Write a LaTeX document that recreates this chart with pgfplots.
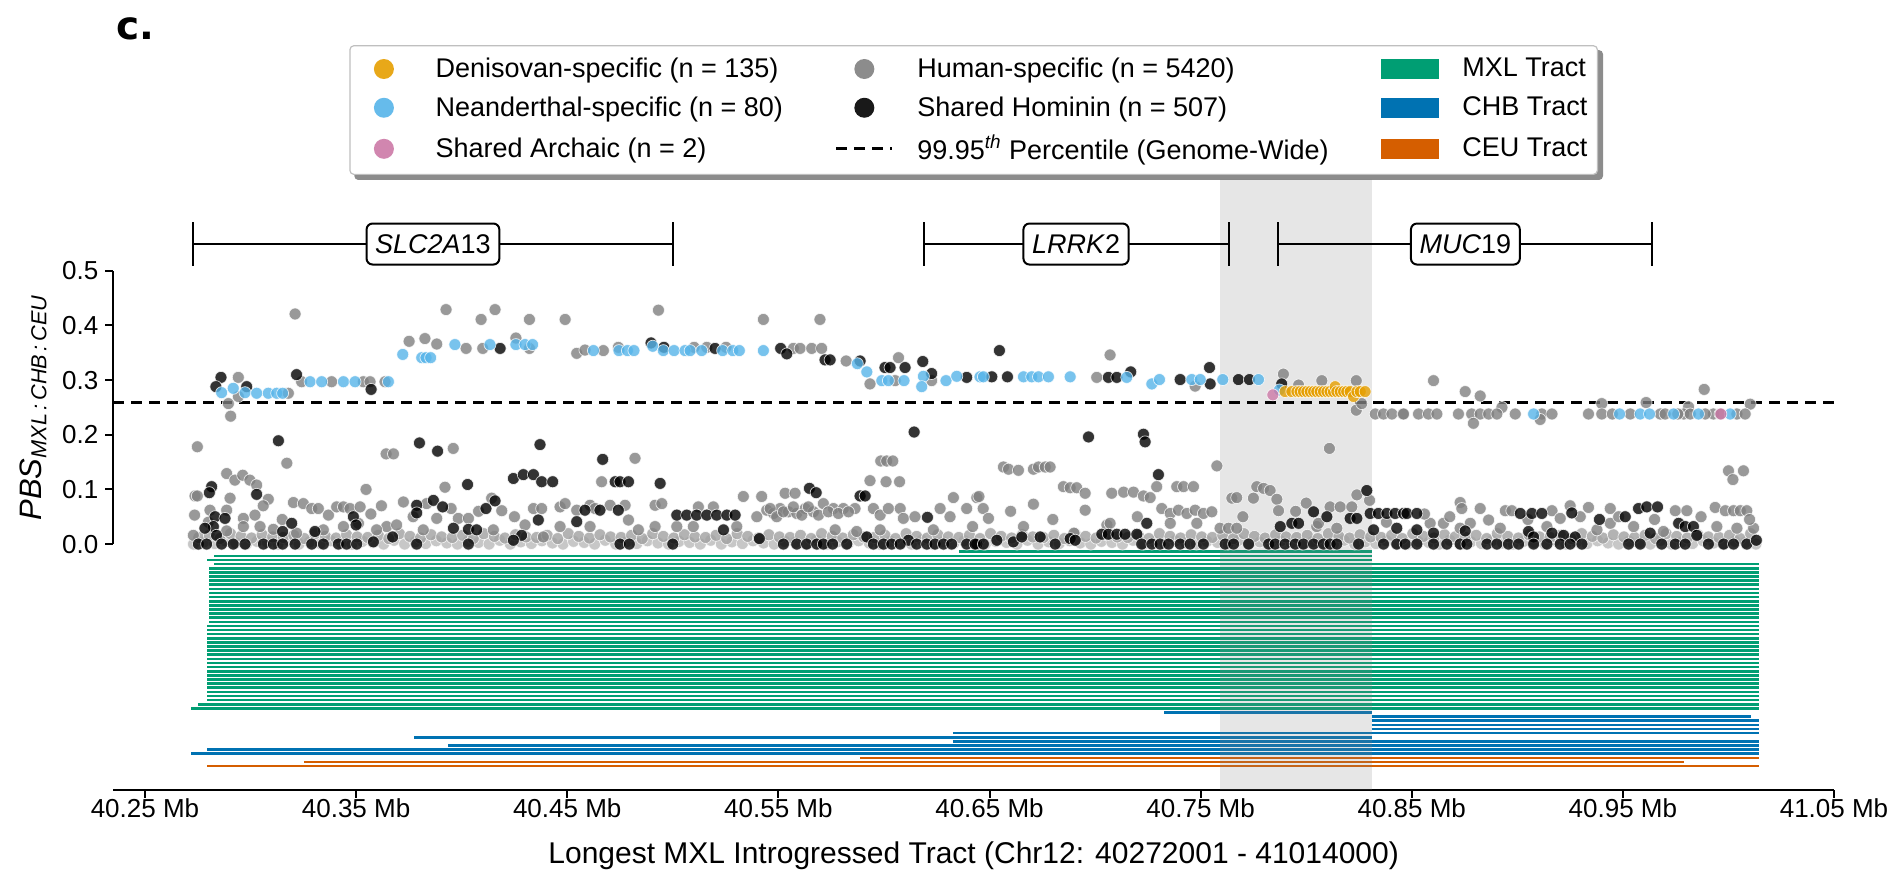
\documentclass[border=0pt]{standalone}
\usepackage{fontspec}
\setmainfont{Liberation Sans}
\newfontfamily\dejavu{DejaVu Sans}
\usepackage{pgfplots}
\pgfplotsset{compat=1.18}
\usetikzlibrary{backgrounds}
\definecolor{deni}{HTML}{E69F00}
\definecolor{nean}{HTML}{56B4E9}
\definecolor{arch}{HTML}{CC79A7}
\definecolor{humn}{HTML}{808080}
\definecolor{mxl}{HTML}{009E73}
\definecolor{chb}{HTML}{0072B2}
\definecolor{ceu}{HTML}{D55E00}
\pgfplotsset{
  scat/.style={only marks, mark=*, mark size=3pt, forget plot,
    mark options={fill=#1, draw=white, line width=0.35pt, opacity=0.8}},
  tract/.style={#1, line width=1.3pt, forget plot, unbounded coords=jump},
  dotimg/.style={legend image code/.code={\path[draw=none, fill=none] (0pt,-5pt) rectangle (28pt,5pt); \fill[#1, draw=none, opacity=0.9] (14pt,0pt) circle (5pt);}},
  patchimg/.style={legend image code/.code={\fill[#1, draw=none, sharp corners] (0pt,-5pt) rectangle (29pt,5pt);}},
}
\begin{document}
\begin{tikzpicture}
\begin{axis}[
  width=860.35pt, height=305.5pt, scale only axis,
  xmin=40.235, xmax=41.05, ymin=-0.45, ymax=0.668,
  clip=false,
  axis x line*=bottom, axis y line*=left,
  x axis line style={-, line width=1pt},
  y axis line style={draw=none},
  xtick={40.25,40.35,40.45,40.55,40.65,40.75,40.85,40.95,41.05},
  xticklabels={40.25 Mb,40.35 Mb,40.45 Mb,40.55 Mb,40.65 Mb,40.75 Mb,40.85 Mb,40.95 Mb,41.05 Mb},
  ytick={0,0.1,0.2,0.3,0.4,0.5},
  yticklabels={0.0,0.1,0.2,0.3,0.4,0.5},
  tick align=outside, major tick length=4pt,
  every tick/.style={black, line width=1pt},
  ticklabel style={font=\fontsize{13}{15}\selectfont},
  xticklabel style={yshift=3pt},
  xlabel={Longest MXL Introgressed Tract (Chr12: 40272001 - 41014000)},
  xlabel style={at={(axis cs:40.6425,-0.5836)}, anchor=base, font=\fontsize{15}{18}\selectfont},
  ylabel={\textit{PBS}\textsubscript{\textit{MXL\,:\,CHB\,:\,CEU}}},
  ylabel style={at={(axis cs:40.197,0.25)}, anchor=center, font=\fontsize{15.5}{18}\selectfont},
  legend columns=3, transpose legend, legend cell align=left,
  legend style={name=leg, at={(0.5,1)}, anchor=south, yshift=2pt,
    draw=black!25, line width=0.6pt, rounded corners=2pt, fill=white,
    font=\fontsize{13.5}{15}\selectfont,
    inner xsep=3pt, inner ysep=5pt, row sep=6.1pt,
    nodes={inner ysep=1pt},
    /tikz/every odd column/.append style={column sep=9.8pt},
    /tikz/column 2/.append style={column sep=24pt},
    /tikz/column 4/.append style={column sep=24pt}},
]
% ---- tracts ----
\addplot[tract=mxl] coordinates {
(40.6356,-0.0141) (40.831,-0.0141) (40.7,nan)
(40.2827,-0.0216) (40.831,-0.0216) (40.7,nan)
(40.2794,-0.0292) (40.831,-0.0292) (40.7,nan)
(40.2827,-0.0367) (41.0145,-0.0367) (40.7,nan)
(40.2805,-0.0443) (41.0145,-0.0443) (40.7,nan)
(40.2805,-0.0518) (41.0145,-0.0518) (40.7,nan)
(40.2805,-0.0593) (41.0145,-0.0593) (40.7,nan)
(40.2805,-0.0669) (41.0145,-0.0669) (40.7,nan)
(40.2805,-0.0744) (41.0145,-0.0744) (40.7,nan)
(40.2805,-0.0820) (41.0145,-0.0820) (40.7,nan)
(40.2805,-0.0895) (41.0145,-0.0895) (40.7,nan)
(40.2805,-0.0970) (41.0145,-0.0970) (40.7,nan)
(40.2805,-0.1046) (41.0145,-0.1046) (40.7,nan)
(40.2805,-0.1121) (41.0145,-0.1121) (40.7,nan)
(40.2805,-0.1197) (41.0145,-0.1197) (40.7,nan)
(40.2805,-0.1272) (41.0145,-0.1272) (40.7,nan)
(40.2805,-0.1347) (41.0145,-0.1347) (40.7,nan)
(40.2805,-0.1423) (41.0145,-0.1423) (40.7,nan)
(40.2794,-0.1498) (41.0145,-0.1498) (40.7,nan)
(40.2794,-0.1574) (41.0145,-0.1574) (40.7,nan)
(40.2794,-0.1649) (41.0145,-0.1649) (40.7,nan)
(40.2794,-0.1724) (41.0145,-0.1724) (40.7,nan)
(40.2794,-0.1800) (41.0145,-0.1800) (40.7,nan)
(40.2794,-0.1875) (41.0145,-0.1875) (40.7,nan)
(40.2794,-0.1951) (41.0145,-0.1951) (40.7,nan)
(40.2794,-0.2026) (41.0145,-0.2026) (40.7,nan)
(40.2794,-0.2101) (41.0145,-0.2101) (40.7,nan)
(40.2794,-0.2177) (41.0145,-0.2177) (40.7,nan)
(40.2794,-0.2252) (41.0145,-0.2252) (40.7,nan)
(40.2794,-0.2328) (41.0145,-0.2328) (40.7,nan)
(40.2794,-0.2403) (41.0145,-0.2403) (40.7,nan)
(40.2794,-0.2478) (41.0145,-0.2478) (40.7,nan)
(40.2794,-0.2554) (41.0145,-0.2554) (40.7,nan)
(40.2794,-0.2629) (41.0145,-0.2629) (40.7,nan)
(40.2794,-0.2705) (41.0145,-0.2705) (40.7,nan)
(40.2794,-0.2780) (41.0145,-0.2780) (40.7,nan)
(40.2794,-0.2855) (41.0145,-0.2855) (40.7,nan)
(40.2753,-0.2931) (41.0145,-0.2931) (40.7,nan)
(40.2720,-0.3006) (41.0145,-0.3006)
};
\addplot[tract=chb] coordinates {
(40.7328,-0.3082) (40.831,-0.3082) (40.7,nan)
(40.831,-0.3157) (41.0107,-0.3157) (40.7,nan)
(40.831,-0.3232) (41.0145,-0.3232) (40.7,nan)
(40.831,-0.3308) (41.0145,-0.3308) (40.7,nan)
(40.831,-0.3383) (41.0145,-0.3383) (40.7,nan)
(40.6326,-0.3459) (41.0145,-0.3459) (40.7,nan)
(40.3775,-0.3534) (40.831,-0.3534) (40.7,nan)
(40.6326,-0.3609) (41.0145,-0.3609) (40.7,nan)
(40.3936,-0.3685) (41.0145,-0.3685) (40.7,nan)
(40.2794,-0.3760) (41.0145,-0.3760) (40.7,nan)
(40.2720,-0.3836) (41.0145,-0.3836)
};
\addplot[tract=ceu] coordinates {
(40.5887,-0.3911) (41.0145,-0.3911) (40.7,nan)
(40.3255,-0.3986) (40.9787,-0.3986) (40.7,nan)
(40.2794,-0.4062) (41.0145,-0.4062)
};
% ---- focal region ----
\addplot[fill=gray, fill opacity=0.2, draw=none, forget plot] coordinates {
(40.759,-0.45) (40.759,0.668) (40.831,0.668) (40.831,-0.45)} -- cycle;
% ---- human-specific, dense band near zero ----
\addplot[scat=humn!55] coordinates {
(40.273,0) (40.278,.004) (40.283,.001) (40.288,.006) (40.293,.002) (40.298,0) (40.303,.005) (40.308,.003) (40.313,0) (40.318,.007)
(40.323,0) (40.328,.004) (40.333,.001) (40.338,.006) (40.343,.002) (40.348,0) (40.353,.005) (40.358,.003) (40.363,0) (40.368,.007)
(40.373,0) (40.378,.004) (40.383,.001) (40.388,.006) (40.393,.002) (40.398,0) (40.403,.005) (40.408,.003) (40.413,0) (40.418,.007)
(40.423,0) (40.428,.004) (40.433,.001) (40.438,.006) (40.443,.002) (40.448,0) (40.453,.005) (40.458,.003) (40.463,0) (40.468,.007)
(40.473,0) (40.478,.004) (40.483,.001) (40.488,.006) (40.493,.002) (40.498,0) (40.503,.005) (40.508,.003) (40.513,0) (40.518,.007)
(40.523,0) (40.528,.004) (40.533,.001) (40.538,.006) (40.543,.002) (40.548,0) (40.553,.005) (40.558,.003) (40.563,0) (40.568,.007)
(40.573,0) (40.578,.004) (40.583,.001) (40.588,.006) (40.593,.002) (40.598,0) (40.603,.005) (40.608,.003) (40.613,0) (40.618,.007)
(40.623,0) (40.628,.004) (40.633,.001) (40.638,.006) (40.643,.002) (40.648,0) (40.653,.005) (40.658,.003) (40.663,0) (40.668,.007)
(40.673,0) (40.678,.004) (40.683,.001) (40.688,.006) (40.693,.002) (40.698,0) (40.703,.005) (40.708,.003) (40.713,0) (40.718,.007)
(40.723,0) (40.728,.004) (40.733,.001) (40.738,.006) (40.743,.002) (40.748,0) (40.753,.005) (40.758,.003) (40.763,0) (40.768,.007)
(40.773,0) (40.778,.004) (40.783,.001) (40.788,.006) (40.793,.002) (40.798,0) (40.803,.005) (40.808,.003) (40.813,0) (40.818,.007)
(40.823,0) (40.828,.004) (40.833,.001) (40.838,.006) (40.843,.002) (40.848,0) (40.853,.005) (40.858,.003) (40.863,0) (40.868,.007)
(40.873,0) (40.878,.004) (40.883,.001) (40.888,.006) (40.893,.002) (40.898,0) (40.903,.005) (40.908,.003) (40.913,0) (40.918,.007)
(40.923,0) (40.928,.004) (40.933,.001) (40.938,.006) (40.943,.002) (40.948,0) (40.953,.005) (40.958,.003) (40.963,0) (40.968,.007)
(40.973,0) (40.978,.004) (40.983,.001) (40.988,.006) (40.993,.002) (40.998,0) (41.003,.005) (41.008,.003) (41.013,0)
};
\addplot[scat=humn!75] coordinates {
(40.2755,.012) (40.2805,.016) (40.2855,.010) (40.2905,.019) (40.2955,.014) (40.3005,.011) (40.3055,.017) (40.3105,.013)
(40.3155,.012) (40.3205,.016) (40.3255,.010) (40.3305,.019) (40.3355,.014) (40.3405,.011) (40.3455,.017) (40.3505,.013)
(40.3555,.012) (40.3605,.016) (40.3655,.010) (40.3705,.019) (40.3755,.014) (40.3805,.011) (40.3855,.017) (40.3905,.013)
(40.3955,.012) (40.4005,.016) (40.4055,.010) (40.4105,.019) (40.4155,.014) (40.4205,.011) (40.4255,.017) (40.4305,.013)
(40.4355,.012) (40.4405,.016) (40.4455,.010) (40.4505,.019) (40.4555,.014) (40.4605,.011) (40.4655,.017) (40.4705,.013)
(40.4755,.012) (40.4805,.016) (40.4855,.010) (40.4905,.019) (40.4955,.014) (40.5005,.011) (40.5055,.017) (40.5105,.013)
(40.5155,.012) (40.5205,.016) (40.5255,.010) (40.5305,.019) (40.5355,.014) (40.5405,.011) (40.5455,.017) (40.5505,.013)
(40.5555,.012) (40.5605,.016) (40.5655,.010) (40.5705,.019) (40.5755,.014) (40.5805,.011) (40.5855,.017) (40.5905,.013)
(40.5955,.012) (40.6005,.016) (40.6055,.010) (40.6105,.019) (40.6155,.014) (40.6205,.011) (40.6255,.017) (40.6305,.013)
(40.6355,.012) (40.6405,.016) (40.6455,.010) (40.6505,.019) (40.6555,.014) (40.6605,.011) (40.6655,.017) (40.6705,.013)
(40.6755,.012) (40.6805,.016) (40.6855,.010) (40.6905,.019) (40.6955,.014) (40.7005,.011) (40.7055,.017) (40.7105,.013)
(40.7155,.012) (40.7205,.016) (40.7255,.010) (40.7305,.019) (40.7355,.014) (40.7405,.011) (40.7455,.017) (40.7505,.013)
(40.7555,.012) (40.7605,.016) (40.7655,.010) (40.7705,.019) (40.7755,.014) (40.7805,.011) (40.7855,.017) (40.7905,.013)
(40.7955,.012) (40.8005,.016) (40.8055,.010) (40.8105,.019) (40.8155,.014) (40.8205,.011) (40.8255,.017) (40.8305,.013)
(40.8355,.012) (40.8405,.016) (40.8455,.010) (40.8505,.019) (40.8555,.014) (40.8605,.011) (40.8655,.017) (40.8705,.013)
(40.8755,.012) (40.8805,.016) (40.8855,.010) (40.8905,.019) (40.8955,.014) (40.9005,.011) (40.9055,.017) (40.9105,.013)
(40.9155,.012) (40.9205,.016) (40.9255,.010) (40.9305,.019) (40.9355,.014) (40.9405,.011) (40.9455,.017) (40.9505,.013)
(40.9555,.012) (40.9605,.016) (40.9655,.010) (40.9705,.019) (40.9755,.014) (40.9805,.011) (40.9855,.017) (40.9905,.013)
(40.9955,.012) (41.0005,.016) (41.0055,.010) (41.0105,.019)
};
% ---- human-specific, other ----
\addplot[scat=humn] coordinates {
(40.3211,0.421) (40.2942,0.305) (40.2895,0.257) (40.2906,0.234) (40.3179,0.276) (40.2942,0.270) (40.3242,0.297) (40.3384,0.297)
(40.3534,0.297) (40.3566,0.297) (40.3637,0.297) (40.3751,0.371) (40.3826,0.376) (40.3882,0.366) (40.3926,0.429) (40.4021,0.358)
(40.4092,0.411) (40.4158,0.429) (40.4100,0.358) (40.4257,0.377) (40.4321,0.411) (40.4321,0.358) (40.4490,0.411) (40.4932,0.428)
(40.4545,0.349) (40.4584,0.355) (40.4671,0.354) (40.4742,0.360) (40.5101,0.360) (40.5161,0.360) (40.5252,0.360) (40.5429,0.411)
(40.5571,0.358) (40.5603,0.358) (40.5658,0.358) (40.5705,0.358) (40.5697,0.411) (40.5821,0.335) (40.5934,0.293) (40.6053,0.299)
(40.6069,0.341) (40.6226,0.299) (40.7071,0.346) (40.7008,0.305) (40.7474,0.289) (40.7892,0.311) (40.8074,0.299) (40.8237,0.299)
(40.8237,0.245) (40.8263,0.257) (40.7964,0.291) (40.8327,0.238) (40.8366,0.238) (40.8406,0.238) (40.8458,0.238) (40.8110,0.175)
(40.8603,0.299) (40.8753,0.279) (40.8824,0.271) (40.8927,0.250) (40.9400,0.257) (40.9610,0.259) (40.9885,0.283) (41.0103,0.256)
(40.9811,0.251)
(40.8461,0.238) (40.8532,0.238) (40.8579,0.238) (40.8619,0.238) (40.8721,0.238) (40.8784,0.238) (40.8824,0.238) (40.8864,0.238)
(40.8903,0.238) (40.8990,0.238) (40.9116,0.238) (40.9164,0.238) (40.9337,0.238) (40.9400,0.238) (40.9535,0.238) (40.9677,0.238)
(40.9788,0.238) (40.9819,0.238) (40.9929,0.238) (41.0040,0.238) (41.0079,0.238) (40.9450,0.238) (40.9700,0.238) (40.9760,0.238)
(40.9890,0.238) (40.9960,0.238) (40.8792,0.221) (40.9108,0.228) (41.0000,0.134) (41.0071,0.134) (41.0021,0.118)
(40.2748,0.178) (40.3172,0.148) (40.3642,0.165) (40.3677,0.165) (40.3960,0.175) (40.4821,0.157) (40.5985,0.152) (40.6013,0.152)
(40.6042,0.152) (40.7577,0.143) (40.6566,0.141) (40.6590,0.137) (40.6637,0.135) (40.6708,0.137) (40.6732,0.141) (40.6764,0.141)
(40.6787,0.141) (40.2887,0.129) (40.2926,0.117) (40.2963,0.126) (40.2997,0.117) (40.3029,0.108) (40.3547,0.100) (40.3921,0.104)
(40.4663,0.114) (40.5934,0.116) (40.6010,0.114) (40.6074,0.114) (40.6850,0.105) (40.6882,0.103) (40.6913,0.103) (40.7292,0.105)
(40.7387,0.105) (40.7419,0.105) (40.7466,0.105) (40.7766,0.105) (40.7798,0.102) (40.7829,0.098)
(40.2729,0.016) (40.2737,0.088) (40.2735,0.053) (40.2748,0.088) (40.2808,0.062) (40.2903,0.084) (40.2887,0.062) (40.3084,0.082)
(40.2966,0.047) (40.3021,0.053) (40.3045,0.032) (40.3108,0.027) (40.2887,0.024) (40.2966,0.032) (40.3203,0.076) (40.3250,0.074)
(40.3290,0.065) (40.3321,0.065) (40.3369,0.053) (40.3408,0.068) (40.3440,0.068) (40.3471,0.065) (40.3519,0.068) (40.3440,0.032)
(40.3511,0.038) (40.3645,0.032) (40.3692,0.035) (40.3724,0.077) (40.3834,0.074) (40.3882,0.047) (40.3984,0.047) (40.4032,0.047)
(40.4142,0.084) (40.4190,0.061) (40.4340,0.065) (40.3218,0.020) (40.3345,0.026) (40.3597,0.026) (40.3818,0.026) (40.4150,0.026)
(40.4387,0.013) (40.2800,0.040) (40.3060,0.070) (40.3150,0.045) (40.3570,0.055) (40.3620,0.070) (40.3770,0.050) (40.3950,0.065)
(40.4080,0.060) (40.4250,0.050) (40.4300,0.035)
(40.4379,0.065) (40.4466,0.068) (40.4490,0.074) (40.4545,0.062) (40.4608,0.071) (40.4632,0.065) (40.4703,0.071) (40.4774,0.071)
(40.4790,0.044) (40.4837,0.026) (40.4916,0.071) (40.4948,0.074) (40.4916,0.032) (40.5019,0.032) (40.5097,0.032) (40.5121,0.068)
(40.5192,0.068) (40.5303,0.032) (40.5334,0.087) (40.5421,0.087) (40.5398,0.050) (40.5445,0.062) (40.5477,0.056) (40.5532,0.093)
(40.5579,0.093) (40.5508,0.065) (40.5548,0.059) (40.5587,0.056) (40.5627,0.065) (40.5666,0.059) (40.5713,0.074) (40.5761,0.065)
(40.5808,0.065) (40.5863,0.065) (40.5950,0.065) (40.5982,0.053) (40.6021,0.065) (40.6077,0.065) (40.6092,0.047) (40.6147,0.050)
(40.6266,0.065) (40.6329,0.085) (40.6313,0.050) (40.6392,0.065) (40.6440,0.085) (40.5769,0.026) (40.5871,0.023) (40.5982,0.026)
(40.6234,0.026) (40.4608,0.032) (40.4466,0.032) (40.5461,0.065) (40.5492,0.050) (40.5524,0.059) (40.5571,0.068) (40.5611,0.053)
(40.5642,0.068) (40.5690,0.053) (40.5737,0.059) (40.5784,0.056) (40.5832,0.059)
(40.6708,0.073) (40.6953,0.093) (40.6953,0.062) (40.7079,0.093) (40.7135,0.095) (40.7182,0.095) (40.7229,0.088) (40.7261,0.085)
(40.6450,0.087) (40.6470,0.065) (40.6495,0.047) (40.6661,0.032) (40.6420,0.032) (40.7316,0.065) (40.7356,0.056) (40.7395,0.062)
(40.7435,0.056) (40.7474,0.062) (40.7513,0.056) (40.7553,0.059) (40.7356,0.038) (40.7482,0.038) (40.7648,0.084) (40.7671,0.085)
(40.7750,0.084) (40.7861,0.082) (40.7869,0.061) (40.8113,0.068) (40.8161,0.068) (40.8216,0.068) (40.8240,0.090) (40.7592,0.029)
(40.7632,0.029) (40.7671,0.029) (40.8050,0.032) (40.8145,0.029) (40.8058,0.038) (40.7056,0.035) (40.7071,0.038) (40.6600,0.060)
(40.6800,0.045) (40.6900,0.020) (40.7200,0.050) (40.7700,0.050) (40.7950,0.060) (40.8000,0.075) (40.8300,0.080) (40.8380,0.040)
(40.8729,0.076) (40.8737,0.065) (40.8824,0.065) (40.8587,0.038) (40.8650,0.038) (40.8777,0.038) (40.8864,0.044) (40.8943,0.061)
(40.8974,0.061) (40.9164,0.061) (40.9203,0.047) (40.9298,0.050) (40.9337,0.067) (40.9440,0.065) (40.9440,0.038) (40.9748,0.061)
(40.9803,0.061) (40.9937,0.067) (40.9985,0.061) (41.0024,0.061) (41.0056,0.061) (41.0087,0.061) (41.0119,0.029) (40.8729,0.029)
(40.8919,0.029) (40.9140,0.032) (40.9377,0.026) (40.9551,0.032) (40.9692,0.023) (40.9945,0.032) (41.0040,0.029) (40.8560,0.055)
(40.8680,0.050) (40.9050,0.045) (40.9250,0.070) (40.9480,0.050) (40.9650,0.045) (40.9870,0.050) (41.0100,0.045)
};
% ---- shared hominin ----
\addplot[scat=black] coordinates {
(40.2860,0.305) (40.2836,0.288) (40.2982,0.288) (40.3218,0.310) (40.3571,0.283) (40.4182,0.358) (40.4897,0.368) (40.4958,0.360)
(40.5200,0.358) (40.5511,0.358) (40.5540,0.348) (40.5721,0.337) (40.5745,0.337) (40.5887,0.335) (40.6005,0.323) (40.6029,0.323)
(40.6100,0.323) (40.6184,0.334) (40.6226,0.312) (40.6392,0.305) (40.6547,0.354) (40.6511,0.306) (40.6585,0.306) (40.7063,0.305)
(40.7103,0.305) (40.7169,0.315) (40.7403,0.301) (40.7542,0.323) (40.7545,0.293) (40.7679,0.301) (40.7731,0.301) (40.7884,0.293)
(40.3132,0.189) (40.3800,0.185) (40.3886,0.170) (40.4371,0.182) (40.6143,0.205) (40.6969,0.196) (40.7229,0.201) (40.7237,0.187)
(40.4668,0.155) (40.7300,0.127) (40.2816,0.105) (40.2805,0.094) (40.3029,0.091) (40.4028,0.109) (40.4245,0.120) (40.4292,0.127)
(40.4340,0.127) (40.4379,0.114) (40.4431,0.114) (40.4727,0.114) (40.4750,0.114) (40.4790,0.114) (40.4940,0.111) (40.5647,0.102)
(40.5679,0.094) (40.5887,0.088) (40.5911,0.088) (40.8287,0.098)
(40.2832,0.050) (40.2879,0.047) (40.2824,0.032) (40.2784,0.029) (40.2839,0.016) (40.3195,0.038) (40.3152,0.023) (40.3305,0.023)
(40.3487,0.050) (40.3500,0.035) (40.3787,0.071) (40.3787,0.057) (40.3866,0.080) (40.3910,0.068) (40.4115,0.065) (40.4158,0.079)
(40.3961,0.029) (40.4032,0.027) (40.4071,0.026) (40.4363,0.044) (40.4284,0.016) (40.4245,0.007) (40.3673,0.013) (40.3582,0.004)
(40.4545,0.041) (40.4584,0.062) (40.4655,0.062) (40.4742,0.062) (40.5019,0.053) (40.5066,0.053) (40.5113,0.053) (40.5161,0.053)
(40.5208,0.053) (40.5256,0.053) (40.5295,0.053) (40.5240,0.026) (40.5410,0.010) (40.5919,0.013) (40.6206,0.049) (40.6116,0.007)
(40.7877,0.032) (40.7932,0.038) (40.7964,0.038) (40.8035,0.059) (40.8098,0.050) (40.8208,0.047) (40.8240,0.047) (40.8303,0.056)
(40.8342,0.056) (40.8382,0.056) (40.8421,0.056) (40.8461,0.056) (40.8319,0.026) (40.8429,0.029) (40.7032,0.018) (40.7063,0.018)
(40.7103,0.018) (40.7142,0.018) (40.7198,0.018) (40.7245,0.038) (40.6535,0.007) (40.6613,0.004) (40.6653,0.013) (40.6740,0.013)
(40.6882,0.010) (40.6906,0.007) (40.8477,0.056) (40.8524,0.056) (40.9014,0.056) (40.9069,0.056) (40.9116,0.056) (40.9258,0.057)
(40.9389,0.045) (40.9511,0.050) (40.9574,0.065) (40.9613,0.068) (40.9664,0.068) (40.9764,0.038) (40.9795,0.032) (40.9834,0.032)
(40.8753,0.024) (40.9053,0.023) (40.9077,0.013) (40.9164,0.020) (40.9219,0.016) (40.9274,0.013) (40.9629,0.020) (40.9850,0.016)
(40.8524,0.026) (40.8603,0.020)
(40.2753,0) (40.2792,0) (40.2863,0) (40.2918,0) (40.2974,0) (40.3061,0) (40.3108,0) (40.3152,0) (40.3211,0) (40.3290,0)
(40.3345,0) (40.3416,0) (40.3455,0) (40.3503,0) (40.3787,0) (40.4032,0)
(40.4750,0) (40.4794,0) (40.5000,0) (40.5524,0) (40.5587,0) (40.5634,0) (40.5682,0) (40.5713,0) (40.5757,0) (40.5824,0)
(40.5950,0) (40.5998,0) (40.6037,0) (40.6077,0) (40.6155,0) (40.6203,0) (40.6242,0) (40.6282,0) (40.6321,0) (40.6392,0) (40.6440,0)
(40.6432,0) (40.6471,0) (40.6811,0) (40.7221,0) (40.7269,0) (40.7308,0) (40.7348,0) (40.7403,0) (40.7450,0) (40.7513,0)
(40.7616,0) (40.7656,0) (40.7727,0) (40.7822,0) (40.7853,0) (40.7900,0) (40.7948,0) (40.7987,0) (40.8035,0) (40.8082,0)
(40.8113,0) (40.8145,0) (40.8248,0) (40.8366,0) (40.8429,0)
(40.8469,0) (40.8524,0) (40.8603,0) (40.8666,0) (40.8729,0) (40.8761,0) (40.8856,0) (40.8903,0) (40.8958,0) (40.9006,0)
(40.9077,0) (40.9140,0) (40.9203,0) (40.9250,0) (40.9306,0) (40.9527,0) (40.9582,0) (40.9684,0) (40.9748,0) (40.9795,0)
(40.9905,0) (40.9977,0) (41.0024,0) (41.0087,0) (41.0132,0.007)
};
% ---- neanderthal-specific ----
\addplot[scat=nean] coordinates {
(40.2863,0.277) (40.2918,0.285) (40.2974,0.277) (40.3029,0.276) (40.3084,0.276) (40.3124,0.276) (40.3152,0.276)
(40.3282,0.297) (40.3337,0.297) (40.3440,0.297) (40.3495,0.297) (40.3653,0.297) (40.3721,0.347) (40.3811,0.341)
(40.3831,0.341) (40.3853,0.341) (40.3968,0.365) (40.4134,0.365) (40.4257,0.365) (40.4300,0.365) (40.4336,0.365)
(40.4624,0.354) (40.4745,0.354) (40.4785,0.354) (40.4816,0.354) (40.4905,0.362) (40.4955,0.354) (40.5006,0.354)
(40.5058,0.354) (40.5082,0.354) (40.5137,0.354) (40.5236,0.354) (40.5284,0.354) (40.5315,0.354) (40.5429,0.354)
(40.5874,0.330) (40.5919,0.315) (40.5990,0.299) (40.6021,0.299) (40.6095,0.299) (40.6187,0.307) (40.6179,0.288)
(40.6294,0.299) (40.6345,0.307) (40.6455,0.306) (40.6471,0.306) (40.6661,0.306) (40.6700,0.306) (40.6732,0.306)
(40.6779,0.306) (40.6882,0.306) (40.7150,0.305) (40.7269,0.293) (40.7305,0.301) (40.7458,0.301) (40.7498,0.301)
(40.7605,0.301) (40.7774,0.301) (40.7873,0.282)
(40.9077,0.238) (40.9484,0.238) (40.9582,0.238) (40.9626,0.238) (40.9740,0.238) (40.9858,0.238) (41.0008,0.238)
};
% ---- denisovan-specific ----
\addplot[scat=deni] coordinates {
(40.7900,0.279) (40.7932,0.279) (40.7956,0.279) (40.7971,0.279) (40.7987,0.279) (40.8003,0.279) (40.8019,0.279)
(40.8035,0.279) (40.8050,0.279) (40.8066,0.279) (40.8082,0.279) (40.8098,0.279) (40.8113,0.279) (40.8129,0.279)
(40.8137,0.288) (40.8145,0.279) (40.8161,0.279) (40.8177,0.279) (40.8192,0.279) (40.8208,0.279) (40.8224,0.270)
(40.8240,0.279) (40.8256,0.279) (40.8279,0.279)
};
% ---- shared archaic ----
\addplot[scat=arch] coordinates {(40.7842,0.273) (40.9964,0.238)};
% ---- threshold ----
\addplot[black, line width=1.4pt, dash pattern=on 5.4pt off 3.6pt, forget plot] coordinates {(40.235,0.2585) (41.05,0.2585)};
% ---- genes ----
\addplot[black, line width=1pt, forget plot, unbounded coords=jump] coordinates {
(40.2727,0.549) (40.5001,0.549) (40.6,nan)
(40.2727,0.509) (40.2727,0.589) (40.6,nan)
(40.5001,0.509) (40.5001,0.589) (40.6,nan)
(40.6188,0.549) (40.7633,0.549) (40.6,nan)
(40.6188,0.509) (40.6188,0.589) (40.6,nan)
(40.7633,0.509) (40.7633,0.589) (40.6,nan)
(40.7868,0.549) (40.9640,0.549) (40.6,nan)
(40.7868,0.509) (40.7868,0.589) (40.6,nan)
(40.9640,0.509) (40.9640,0.589)
};
\node[draw, fill=white, line width=1pt, rounded corners=3pt, inner xsep=4.3pt, inner ysep=0pt, minimum height=20.5pt, font=\fontsize{13.5}{15}\selectfont] at (axis cs:40.3864,0.549) {\textit{SLC2A}13};
\node[draw, fill=white, line width=1pt, rounded corners=3pt, inner xsep=4.3pt, inner ysep=0pt, minimum height=20.5pt, font=\fontsize{13.5}{15}\selectfont] at (axis cs:40.6910,0.549) {\textit{LRRK}2};
\node[draw, fill=white, line width=1pt, rounded corners=3pt, inner xsep=4.3pt, inner ysep=0pt, minimum height=20.5pt, font=\fontsize{13.5}{15}\selectfont] at (axis cs:40.8754,0.549) {\textit{MUC}19};
% y spine
\draw[line width=1pt] (axis cs:40.235,0) -- (axis cs:40.235,0.5);
% ---- legend ----
\addlegendimage{dotimg=deni}
\addlegendentry{Denisovan-specific (n = 135)}
\addlegendimage{dotimg=nean}
\addlegendentry{Neanderthal-specific (n = 80)}
\addlegendimage{dotimg=arch}
\addlegendentry{Shared Archaic (n = 2)}
\addlegendimage{dotimg=humn}
\addlegendentry{Human-specific (n = 5420)}
\addlegendimage{dotimg=black}
\addlegendentry{Shared Hominin (n = 507)}
\addlegendimage{legend image code/.code={\path[draw=none, fill=none] (0pt,-5pt) rectangle (28pt,5pt); \draw[black, fill=none, line width=1.4pt, dash pattern=on 5.4pt off 3.6pt] (0pt,0pt) -- (28pt,0pt);}}
\addlegendentry{99.95\textsuperscript{\textit{th}} Percentile (Genome-Wide)}
\addlegendimage{patchimg=mxl}
\addlegendentry{MXL Tract}
\addlegendimage{patchimg=chb}
\addlegendentry{CHB Tract}
\addlegendimage{patchimg=ceu}
\addlegendentry{CEU Tract}
\end{axis}
\begin{scope}[on background layer]
\fill[black!45, rounded corners=2pt] ([shift={(2.5pt,-2.5pt)}]leg.south west) rectangle ([shift={(2.5pt,-2.5pt)}]leg.north east);
\end{scope}
\node[anchor=base west, inner sep=0pt, font=\dejavu\bfseries\fontsize{19.5}{22}\selectfont] at (1.35pt,375pt) {c.};
\pgfresetboundingbox
\path[use as bounding box] (-56.65pt,-40.5pt) rectangle (892.35pt,395pt);
\end{tikzpicture}
\end{document}
